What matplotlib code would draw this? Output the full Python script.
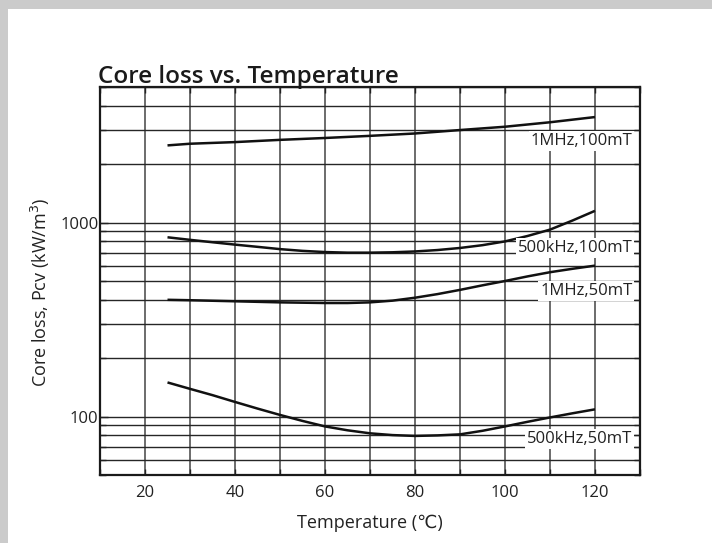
import matplotlib
matplotlib.use("Agg")
import matplotlib.pyplot as plt
from matplotlib.patches import Rectangle
from matplotlib.ticker import FixedLocator, NullFormatter, LogLocator

plt.rcParams['font.family'] = ['Open Sans', 'DejaVu Sans']

# temperature points (deg C) and core loss readings (kW/m3)
temp_1m100 = [25, 30, 40, 50, 60, 70, 80, 90, 100, 110, 120]
loss_1m100 = [2500, 2550, 2600, 2670, 2730, 2800, 2880, 3000, 3120, 3290, 3500]

temp_500k100 = [25, 30, 35, 40, 45, 50, 55, 60, 65, 70, 75, 80, 85, 90, 95,
                100, 105, 110, 115, 120]
loss_500k100 = [840, 815, 792, 770, 750, 730, 715, 705, 700, 700, 703, 710,
                722, 740, 765, 800, 853, 920, 1025, 1150]

temp_1m50 = [25, 30, 40, 50, 60, 65, 70, 75, 80, 85, 90, 95, 100, 105, 110,
             115, 120]
loss_1m50 = [400, 398, 393, 388, 385, 385, 388, 396, 410, 428, 450, 475, 500,
             528, 555, 578, 600]

temp_500k50 = [25, 30, 35, 40, 45, 50, 55, 60, 65, 70, 75, 80, 85, 90, 95,
               100, 105, 110, 115, 120]
loss_500k50 = [150, 139, 129, 119, 110, 102, 95, 89, 85, 82, 80.3, 79.5,
               80, 81, 84.5, 89, 94, 99, 104, 109]

series_names = ['1MHz,100mT', '500kHz,100mT', '1MHz,50mT', '500kHz,50mT']
x_ticks = [20, 40, 60, 80, 100, 120]
y_ticks = [100, 1000]

# where each curve name sits (data coords, right aligned)
name_pos = [(128.3, 2630), (128.3, 742), (128.3, 445), (128.3, 77)]

fig = plt.figure(figsize=(7.12, 5.43), dpi=100)
fig.patch.set_facecolor('white')

# grey frame strips along top and left edges
fig.patches.append(Rectangle((0, 1 - 9 / 543), 1, 9 / 543, transform=fig.transFigure,
                             facecolor='#cbcbcb', edgecolor='none', zorder=-5))
fig.patches.append(Rectangle((0, 0), 8 / 712, 1, transform=fig.transFigure,
                             facecolor='#cbcbcb', edgecolor='none', zorder=-5))

ax = fig.add_axes([100 / 712, 1 - 475 / 543, 540 / 712, 388 / 543])
ax.set_xlim(10, 130)
ax.set_yscale('log')
ax.set_ylim(50, 5000)

for t, v in [(temp_1m100, loss_1m100), (temp_500k100, loss_500k100),
             (temp_1m50, loss_1m50), (temp_500k50, loss_500k50)]:
    ax.plot(t, v, color='#111111', lw=1.8, zorder=3, solid_capstyle='butt',
            solid_joinstyle='round')

for name, (px, py) in zip(series_names, name_pos):
    ax.text(px, py, name, ha='right', va='center', fontsize=12, color='#222222',
            bbox=dict(facecolor='white', edgecolor='none', pad=1.5), zorder=4)

# axis ticks and grid
ax.xaxis.set_major_locator(FixedLocator(x_ticks))
ax.xaxis.set_minor_locator(FixedLocator(range(10, 131, 10)))
ax.yaxis.set_major_locator(FixedLocator(y_ticks))
ax.yaxis.set_minor_locator(LogLocator(base=10, subs=range(2, 10)))
ax.yaxis.set_minor_formatter(NullFormatter())
ax.set_yticklabels([str(v) for v in y_ticks])

ax.grid(True, which='both', axis='y', color='#262626', lw=1.0, zorder=1)
ax.grid(True, which='both', axis='x', color='#444444', lw=1.1, zorder=1)
ax.tick_params(axis='x', which='both', direction='in', top=True, length=4,
               width=1, labelsize=12, pad=7, colors='#222222')
ax.tick_params(axis='y', which='both', direction='in', right=True, length=6,
               width=1, labelsize=12, pad=1, colors='#222222')
ax.tick_params(axis='y', which='minor', length=4)
for side in ax.spines.values():
    side.set_linewidth(1.6)
    side.set_color('#1a1a1a')

fig.text(98 / 712, 1 - 83 / 543, 'Core loss vs. Temperature', fontsize=17.5,
         fontweight='semibold', color='#1a1a1a', ha='left', va='baseline')
fig.text(370 / 712, 1 - 523 / 543, 'Temperature (℃)', fontsize=13,
         color='#222222', ha='center', va='center')
fig.text(40 / 712, 1 - 292 / 543, 'Core loss, Pcv (kW/m$^3$)', fontsize=13,
         color='#222222', ha='center', va='center', rotation=90)

fig.savefig('out.png', dpi=100)
